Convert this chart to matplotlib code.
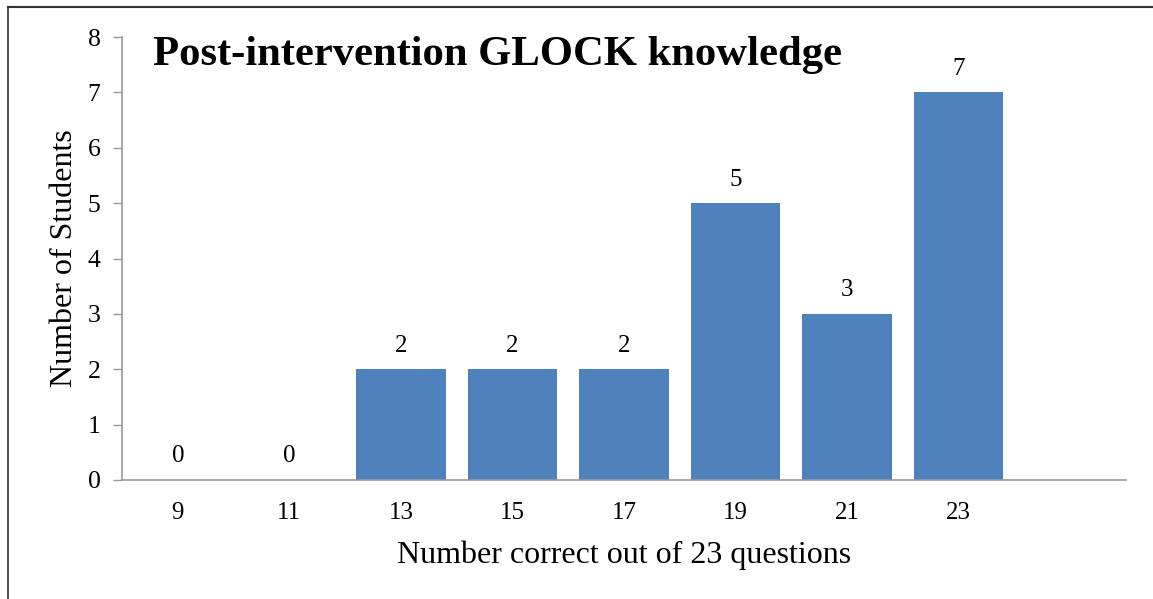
import matplotlib
matplotlib.use("Agg")
import matplotlib.pyplot as plt
from matplotlib.lines import Line2D

categories = ["9", "11", "13", "15", "17", "19", "21", "23", ""]
counts = [0, 0, 2, 2, 2, 5, 3, 7, None]
title = "Post-intervention GLOCK knowledge"
xlabel = "Number correct out of 23 questions"
ylabel = "Number of Students"
yticks = list(range(0, 9))

plt.rcParams['font.family'] = ['Liberation Serif', 'DejaVu Serif']

W, H = 1153, 599
fig = plt.figure(figsize=(W / 100, H / 100), dpi=100)
ax = fig.add_axes([122 / W, 1 - 480 / H, (1126 - 122) / W, (480 - 37) / H])

xs = list(range(len(categories)))
vals = [v if v is not None else 0 for v in counts]
ax.bar(xs, vals, width=0.8, color="#4F81BD", zorder=2)
for x, v in zip(xs, counts):
    if v is None:
        continue
    ax.annotate(str(v), (x, v), xytext=(0, 12.6), textcoords="offset points",
                ha="center", va="baseline", fontsize=18)

ax.set_xlim(-0.5, len(categories) - 0.5)
ax.set_ylim(0, 8)
ax.set_yticks(yticks)
ax.set_xticks(xs)
ax.set_xticklabels(categories)
ax.tick_params(axis="y", length=6.5, color="#999999", labelsize=18.5, pad=9, width=1)
ax.tick_params(axis="x", length=0, labelsize=18, pad=16)
for s in ["top", "right"]:
    ax.spines[s].set_visible(False)
for s in ["left", "bottom"]:
    ax.spines[s].set_color("#999999")
    ax.spines[s].set_linewidth(1.2)

ax.set_xlabel(xlabel, fontsize=23, labelpad=12)
ax.set_ylabel(ylabel, fontsize=23, labelpad=6)
fig.text(153 / W, 1 - 64.5 / H, title, fontsize=30.7, fontweight="bold",
         ha="left", va="baseline")

# partial outer frame (left and top)
fig.add_artist(Line2D([8 / W, 8 / W], [0, 1 - 7 / H], transform=fig.transFigure,
                      color="#555555", linewidth=1.5))
fig.add_artist(Line2D([8 / W, 1], [1 - 7 / H, 1 - 7 / H], transform=fig.transFigure,
                      color="#333333", linewidth=1.5))

fig.savefig("out.png", dpi=100)
